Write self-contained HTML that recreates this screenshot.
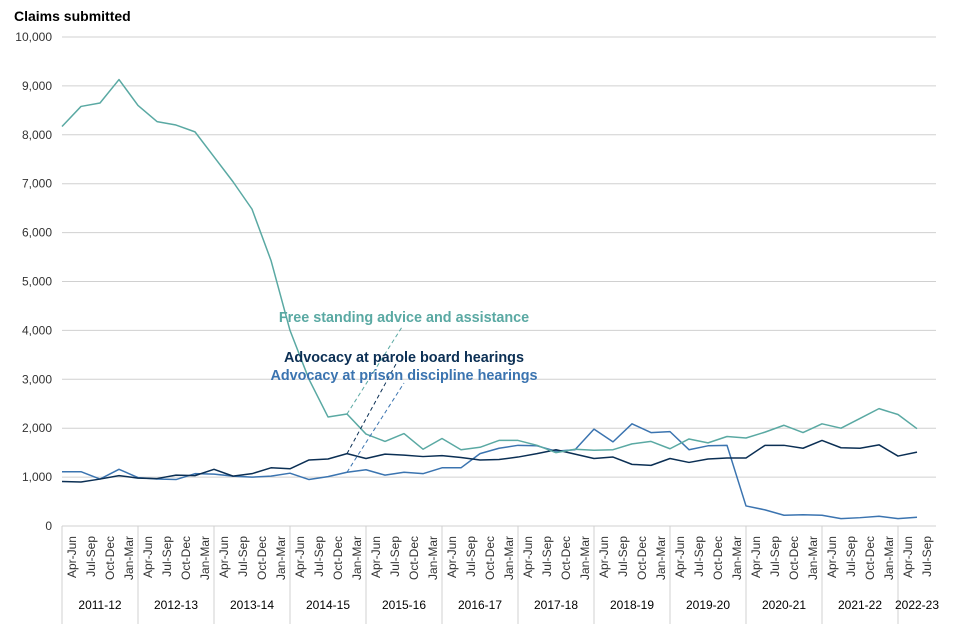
<!DOCTYPE html>
<html><head><meta charset="utf-8"><style>
body{margin:0;background:#fff;}
svg{display:block;font-family:"Liberation Sans",Arial,sans-serif;}
</style></head><body>
<svg id="chart" width="960" height="640">
<text x="14" y="21" font-size="14" font-weight="bold" fill="#000">Claims submitted</text>
<g id="grid"></g><g id="xaxis"></g><g id="series"></g><g id="labels"></g>
</svg>
<script>
const quarters=["Apr-Jun","Jul-Sep","Oct-Dec","Jan-Mar"];
const years=["2011-12","2012-13","2013-14","2014-15","2015-16","2016-17","2017-18","2018-19","2019-20","2020-21","2021-22","2022-23"];
const yTicks=[0,1000,2000,3000,4000,5000,6000,7000,8000,9000,10000];
const freeStanding=[8170,8580,8650,9130,8600,8270,8200,8060,7550,7040,6480,5430,4000,3000,2230,2290,1880,1730,1890,1570,1790,1560,1610,1750,1750,1650,1500,1570,1550,1560,1680,1730,1580,1780,1700,1830,1800,1920,2060,1910,2090,2000,2200,2400,2280,1990];
const parole=[910,900,960,1030,980,970,1040,1030,1160,1020,1070,1190,1170,1350,1370,1480,1380,1470,1450,1420,1440,1400,1350,1360,1410,1480,1560,1470,1380,1410,1260,1240,1380,1300,1370,1390,1390,1650,1650,1590,1750,1600,1590,1660,1430,1510];
const prison=[1110,1110,960,1160,990,960,950,1070,1060,1020,1000,1020,1080,950,1010,1100,1150,1040,1100,1070,1190,1190,1480,1590,1650,1640,1530,1560,1980,1720,2090,1910,1930,1560,1640,1650,410,330,220,230,220,150,170,200,150,180];
const categories=[];
years.forEach((y,yi)=>{const n=yi===years.length-1?2:4;for(let q=0;q<n;q++)categories.push({year:y,q:quarters[q]});});

const NS="http://www.w3.org/2000/svg";
const X0=62,BAND=19,Y0=526,Y1=37,VMAX=10000;
const N=categories.length;
const xs=i=>X0+i*BAND;
const xb=i=>X0+BAND/2+i*BAND;
const ys=v=>Y0-(v/VMAX)*(Y0-Y1);
function mk(tag,attrs,parent,txt){const e=document.createElementNS(NS,tag);for(const k in attrs)e.setAttribute(k,attrs[k]);if(txt!==undefined)e.textContent=txt;parent.appendChild(e);return e;}
const grid=document.getElementById('grid'),xa=document.getElementById('xaxis'),sg=document.getElementById('series'),lg=document.getElementById('labels');
const xEnd=X0+N*BAND;
yTicks.forEach(t=>{
 const l=mk('line',{x1:X0,x2:xEnd,y1:ys(t),y2:ys(t),stroke:'#d0d0d0','stroke-width':1},grid);
 
 
 const tx=mk('text',{x:52,y:ys(t)+4,'font-size':12,'text-anchor':'end',fill:'#333'},grid,t.toLocaleString('en-GB'));
 
 
});
categories.forEach((c,i)=>{
 const tx=mk('text',{transform:`translate(${xb(i)+4.5},536) rotate(-90)`,'font-size':12,'text-anchor':'end',fill:'#333'},xa,c.q);
 
 
});
let start=0;
years.forEach((y,yi)=>{
 const n=yi===years.length-1?2:4;
 const bx=X0+start*BAND;
 const l=mk('line',{x1:bx,x2:bx,y1:Y0,y2:624,stroke:'#d0d0d0','stroke-width':1},xa);
 
 
 const tx=mk('text',{x:bx+n*BAND/2,y:609,'font-size':12,'text-anchor':'middle',fill:'#000'},xa,y);
 
 
 start+=n;
});
function line(data,color,name){
 const p=mk('polyline',{points:data.map((v,i)=>xs(i)+','+ys(v)).join(' '),fill:'none',stroke:color,'stroke-width':1.5,'stroke-linejoin':'round'},sg);
 
 
}
line(prison,'#3b74b0','prison-discipline-line');
line(parole,'#0b2f54','parole-board-line');
line(freeStanding,'#5aa9a3','free-standing-line');
function label(text,color,lx,ly,data,ex,ey,name){
 const d=mk('line',{x1:xs(15),y1:ys(data[15]),x2:ex,y2:ey,stroke:color,'stroke-width':1,'stroke-dasharray':'4,3'},lg);
 
 
 const t=mk('text',{x:lx,y:ly,'font-size':14.4,'font-weight':'bold','text-anchor':'middle',fill:color},lg,text);
 
 
}
label('Free standing advice and assistance','#5aa9a3',404,322,freeStanding,402,327,'free-standing-label');
label('Advocacy at parole board hearings','#0b2f54',404,362,parole,396,364,'parole-board-label');
label('Advocacy at prison discipline hearings','#3b74b0',404,380,prison,404,383,'prison-discipline-label');
</script>
</body></html>
